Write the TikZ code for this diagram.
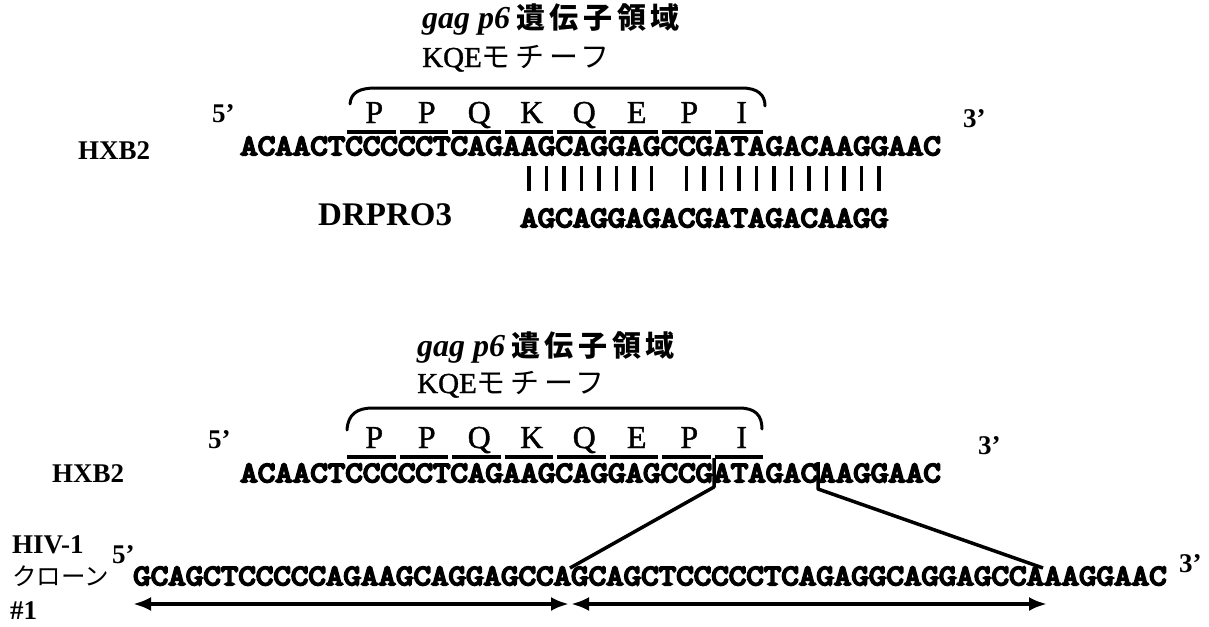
\documentclass[tikz,border=0pt]{standalone}
\usepackage{fontspec}
\usetikzlibrary{arrows.meta}
\newfontfamily\seqf[FakeBold=7,FakeStretch=1.166]{Latin Modern Mono}
\newfontfamily\tms{Liberation Serif}
\newfontfamily\aaf[FakeBold=1.2]{Liberation Serif}
\newfontfamily\cjk[LetterSpace=16]{Noto Sans CJK JP}
\newfontfamily\cjkn{Noto Sans CJK JP}
\tikzset{
  seq/.style={font=\seqf\fontsize{29.17}{30}\selectfont, anchor=base west, inner sep=0pt},
  lbl/.style={font=\tms\bfseries\fontsize{27}{28}\selectfont, anchor=base west, inner sep=0pt},
  aa/.style={font=\aaf\fontsize{32}{33}\selectfont, anchor=base, inner sep=0pt},
  jp/.style={anchor=base west, inner sep=0pt},
  ul/.style={line width=4.5pt},
  brk/.style={line width=3pt, line cap=round},
  mbar/.style={line width=3.5pt},
  link/.style={line width=3.5pt, line join=round},
  dbl/.style={line width=4.5pt, {Latex[length=18pt,width=14pt]}-{Latex[length=18pt,width=14pt]}},
}
\begin{document}
\begin{tikzpicture}[x=1pt,y=-1pt]
\useasboundingbox (0,0) rectangle (1209,626);
% ---------- upper panel ----------
\node[jp] (gag1) at (422,29) {\tms\bfseries\itshape\fontsize{32}{33}\selectfont gag p6\hspace{6pt}\cjk\fontsize{29}{30}\selectfont 遺伝子領域};
\node[jp] (kqe1) at (422,67) {\aaf\fontsize{29}{30}\selectfont KQE\cjk\fontsize{29}{30}\selectfont モチーフ};
\draw[brk] (350,104) .. controls (351,92) and (360,88) .. (376,88) -- (742,88) .. controls (758,88) and (765,95) .. (765,106);
\node[lbl] (p5a) at (212,122) {5’};
\node[lbl] (p3a) at (963,127) {3’};
\foreach \a [count=\k from 0] in {P,P,Q,K,Q,E,P,I}
  \node[aa] (aaA\k) at ({240+(7.5+3*\k)*17.5+3},123) {\a};
\foreach \k in {0,...,7}
  \draw[ul] ({345+52.5*\k+2},132) -- ({345+52.5*(\k+1)-2},132);
\node[lbl] (hxb1) at (78,159) {HXB2};
\node[seq] (seq1) at (240,155) {ACAACTCCCCCTCAGAAGCAGGAGCCGATAGACAAGGAAC};
\foreach \i in {17,...,24}
  \draw[mbar] ({240+(\i-0.5)*17.5},166) -- ({240+(\i-0.5)*17.5},191);
\foreach \i in {26,...,37}
  \draw[mbar] ({240+(\i-0.5)*17.5},166) -- ({240+(\i-0.5)*17.5},191);
\node[font=\tms\bfseries\fontsize{33}{34}\selectfont, anchor=base west, inner sep=0pt] (drp) at (318,225) {DRPRO3};
\node[seq] (seq2) at (520,227) {AGCAGGAGACGATAGACAAGG};
% ---------- lower panel ----------
\node[jp] (gag2) at (417,356) {\tms\bfseries\itshape\fontsize{32}{33}\selectfont gag p6\hspace{6pt}\cjk\fontsize{29}{30}\selectfont 遺伝子領域};
\node[jp] (kqe2) at (417,393) {\aaf\fontsize{29}{30}\selectfont KQE\cjk\fontsize{29}{30}\selectfont モチーフ};
\draw[brk] (347,430) .. controls (348,414) and (357,408) .. (373,408) -- (739,408) .. controls (755,408) and (762,415) .. (762,429);
\node[lbl] (p5b) at (208,448) {5’};
\node[lbl] (p3b) at (978,454) {3’};
\foreach \a [count=\k from 0] in {P,P,Q,K,Q,E,P,I}
  \node[aa] (aaB\k) at ({240+(7.5+3*\k)*17.5+3},448) {\a};
\foreach \k in {0,...,7}
  \draw[ul] ({345+52.5*\k+2},457) -- ({345+52.5*(\k+1)-2},457);
\node[lbl] (hxb2) at (52,482) {HXB2};
\node[seq] (seq3) at (240,482) {ACAACTCCCCCTCAGAAGCAGGAGCCGATAGACAAGGAAC};
\node[lbl] (hiv) at (12,553) {HIV-1};
\node[jp] (clone) at (12,585) {\cjkn\fontsize{24.5}{25}\selectfont クローン};
\node[lbl] (num) at (10,619) {\#1};
\node[lbl] (p5c) at (112,563) {5’};
\node[lbl] (p3c) at (1179,572) {3’};
\node[seq] (seq4) at (133,585) {GCAGCTCCCCCAGAAGCAGGAGCCAGCAGCTCCCCCTCAGAGGCAGGAGCCAAAGGAAC};
% crossover links
\coordinate (la) at (714,458);
\coordinate (lb) at (714,487);
\coordinate (lc) at (570,568);
\coordinate (ra) at (818,462);
\coordinate (rb) at (818,489);
\coordinate (rc) at (1043,568);
\draw[link] (la) -- (lb) -- (lc);
\draw[link] (ra) -- (rb) -- (rc);
% arrows
\coordinate (a1) at (133,604);
\coordinate (a2) at (569,604);
\coordinate (a3) at (571,604);
\coordinate (a4) at (1047,604);
\draw[dbl] (a1) -- (a2);
\draw[dbl] (a3) -- (a4);
\end{tikzpicture}
\end{document}
